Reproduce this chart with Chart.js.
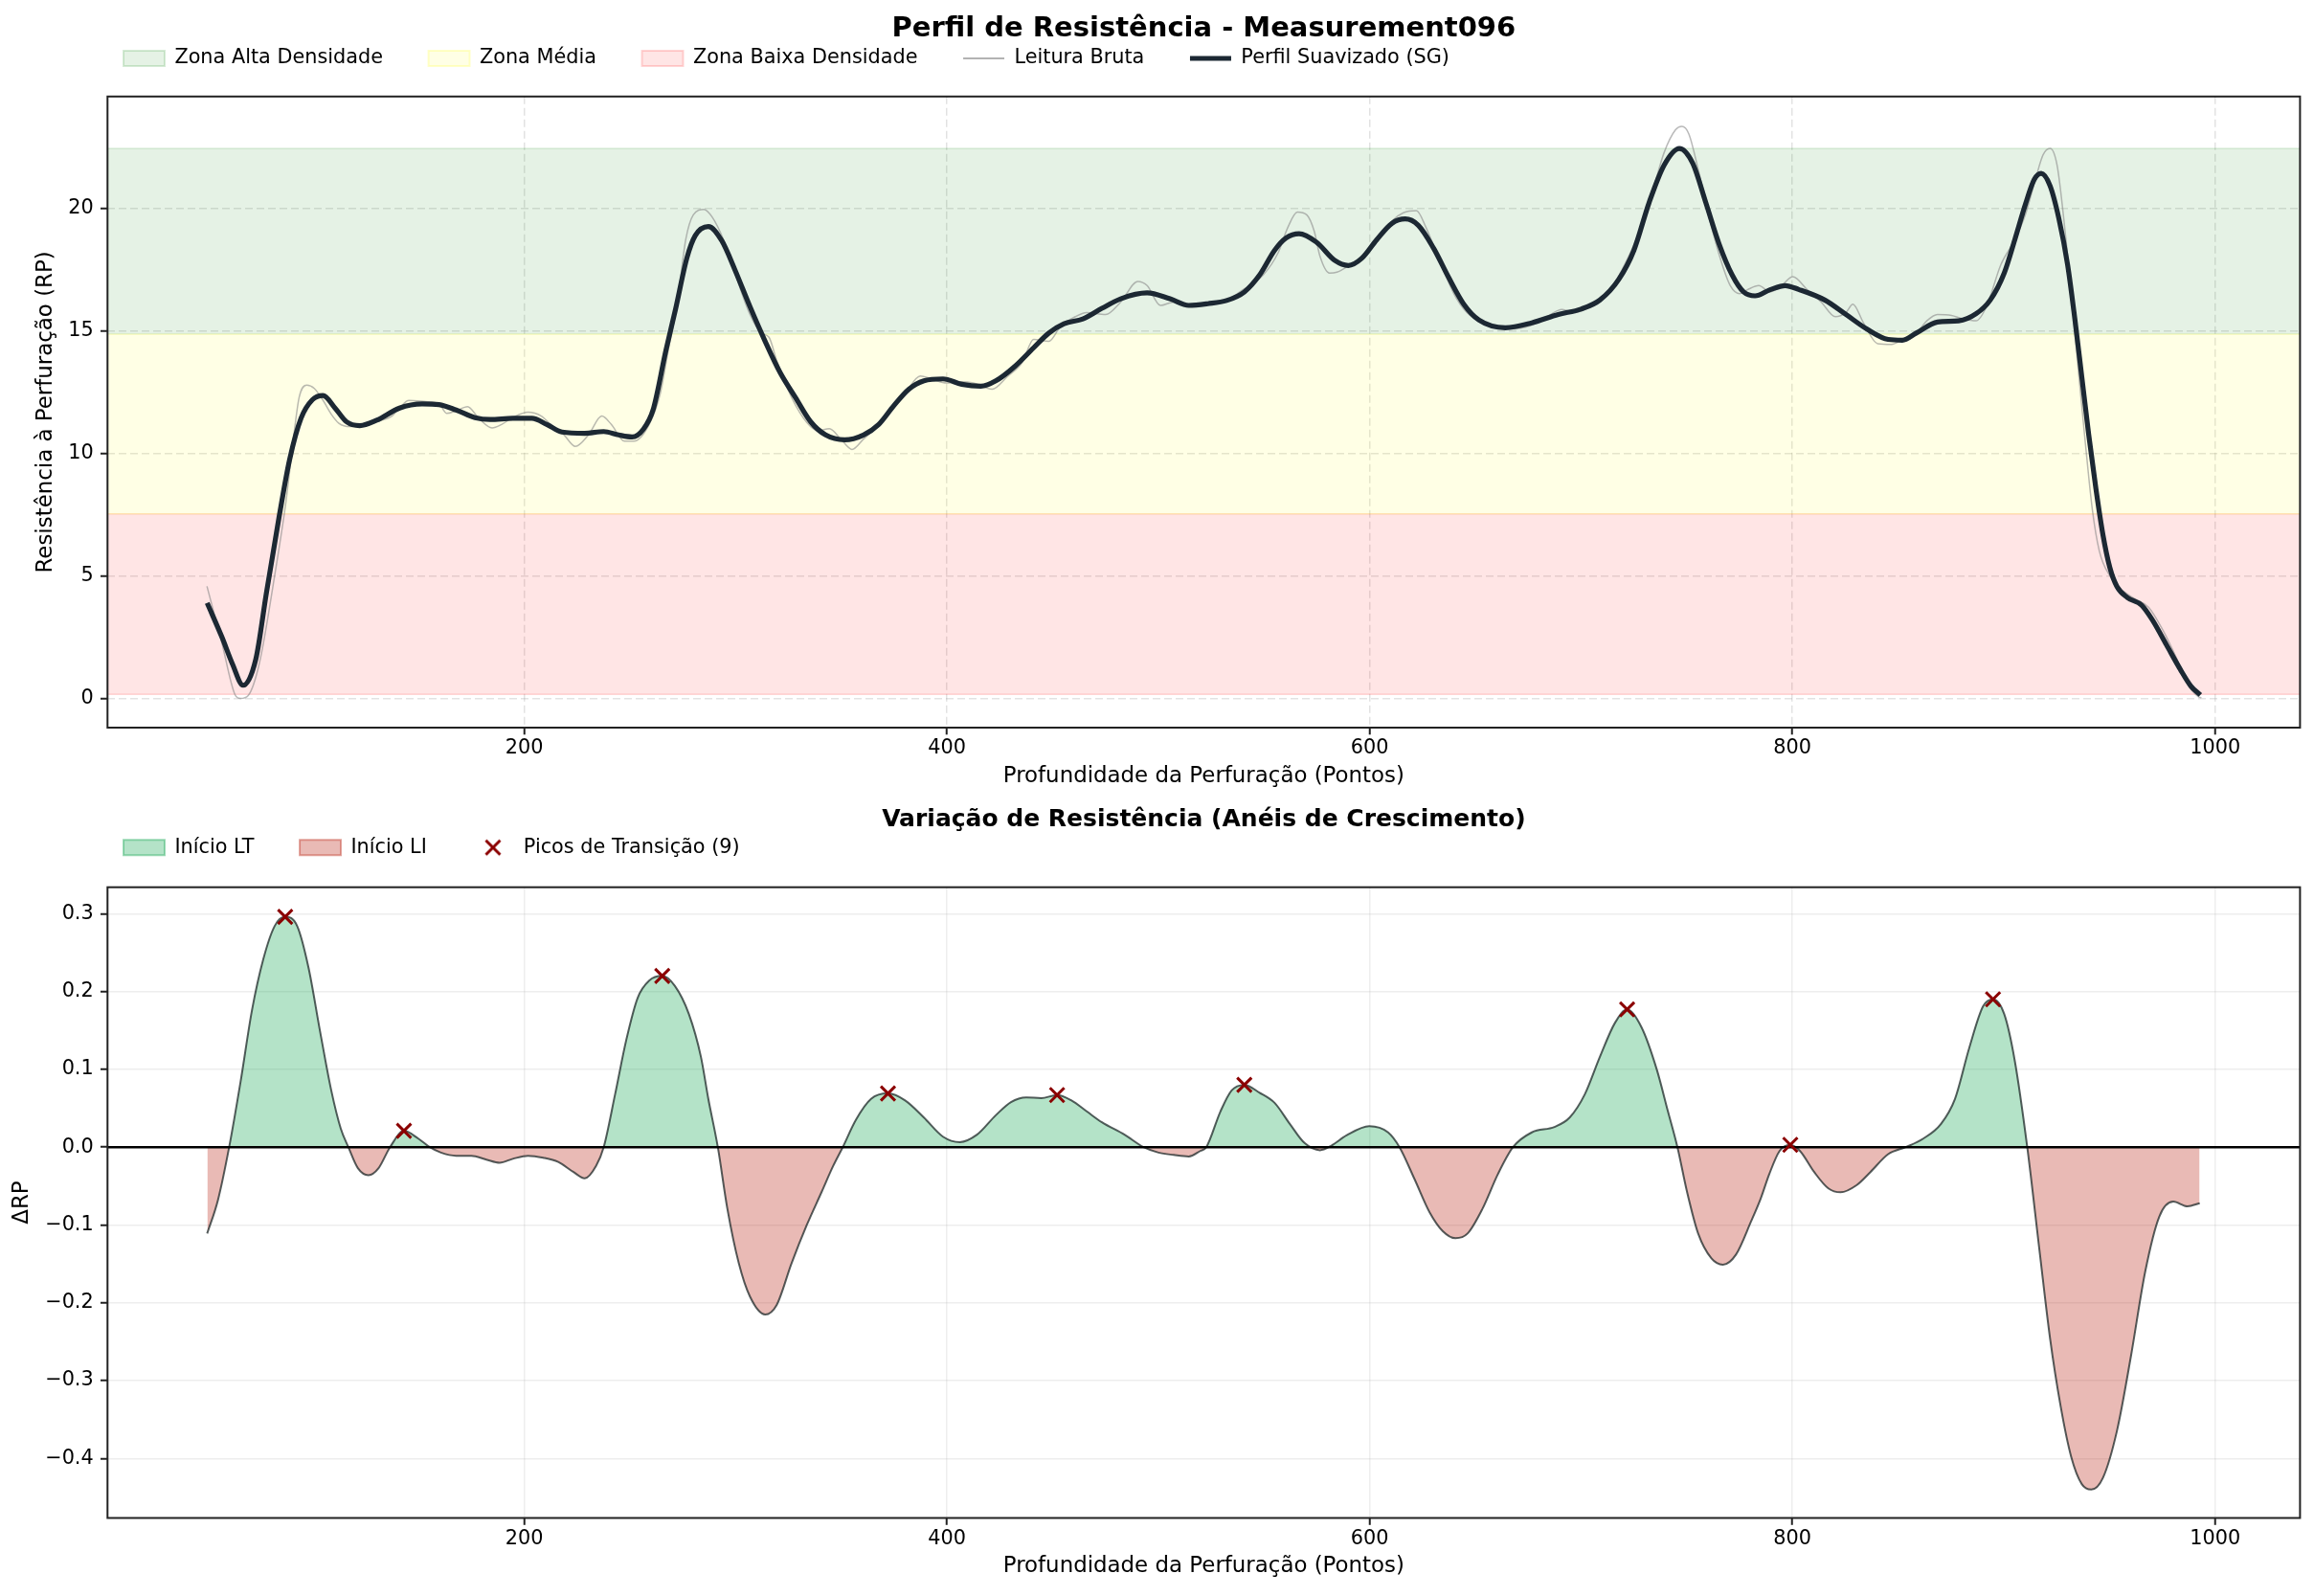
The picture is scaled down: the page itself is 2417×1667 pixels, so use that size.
<!DOCTYPE html>
<html>
<head>
<meta charset="utf-8">
<script src="https://cdn.jsdelivr.net/npm/chart.js@4.4.1/dist/chart.umd.min.js"></script>
<style>
  html, body { margin: 0; padding: 0; background: #fff; overflow: hidden; }
  #fig { position: relative; width: 2417px; height: 1667px; }
  canvas { position: absolute; left: 0; }
  #profile { top: 0; }
  #delta { top: 840px; }
</style>
</head>
<body>
<div id="fig">
  <canvas id="profile" width="2417" height="840"></canvas>
  <canvas id="delta" width="2417" height="827"></canvas>
</div>
<script>
/* ---- data ---- */
const DEPTH_TICKS = [200, 400, 600, 800, 1000];
const RP_TICKS = [0, 5, 10, 15, 20];
const DRP_TICKS = [-0.4, -0.3, -0.2, -0.1, 0, 0.1, 0.2, 0.3];
const X_RANGE = [2.85, 1040.15];
const RP_RANGE = [-1.19, 24.58];
const DRP_RANGE = [-0.4765, 0.334];
const ZONE_EDGES = [0.17, 7.54, 14.88, 22.46];

const SG_X = [50, 57, 62, 67, 73, 78, 84, 89, 94.4, 99.8,
  104.8, 110.5, 115.9, 122.2, 130.2, 141, 151.7, 159.7, 167.8, 176.7,
  183.9, 194.6, 203.6, 210.7, 217.9, 228.6, 237.6, 244.7, 251, 256.4,
  261, 267, 271.6, 277, 280.9, 287.1, 293.4, 299.7, 306.8, 314,
  321.1, 328.3, 335.5, 342.6, 351.6, 360.5, 367.7, 374.8, 382, 389.1,
  398.1, 407, 416, 423.1, 432.1, 441, 448.2, 455.4, 464.3, 473.3,
  482.2, 494.7, 505.5, 514.4, 523.4, 532.3, 540.7, 547.9, 555, 560.4,
  566.6, 574.7, 583.6, 589.9, 596.2, 603.3, 610.5, 616.8, 623, 630.2,
  637.3, 644.5, 651.6, 664.2, 676.7, 689.2, 700, 708.9, 717.9, 725,
  732.2, 739.3, 746.5, 752.8, 759, 765.3, 771.5, 776.9, 782.3, 789.4,
  796.6, 803, 815.3, 825.3, 835.3, 845.3, 852, 858.6, 868.6, 878.6,
  886.9, 893.6, 900.2, 905.2, 910.2, 914.4, 917.7, 921.9, 926.1, 930.2,
  933.6, 936.9, 940.2, 943.6, 946.9, 950.2, 953.5, 958.5, 965.2, 970.2,
  976.9, 983.5, 988.5, 993];
const SG_Y = [3.9, 2.5, 1.4, 0.54, 1.6, 4.3, 7.4, 9.75, 11.44, 12.2,
  12.37, 11.86, 11.3, 11.14, 11.36, 11.86, 12.03, 12.0, 11.78, 11.47,
  11.39, 11.44, 11.44, 11.19, 10.88, 10.83, 10.9, 10.76, 10.68, 11.0,
  11.8, 14.2, 15.9, 18.0, 18.9, 19.27, 18.7, 17.5, 16.0, 14.58,
  13.3, 12.29, 11.3, 10.76, 10.56, 10.76, 11.19, 11.95, 12.63, 12.97,
  13.05, 12.83, 12.75, 12.97, 13.56, 14.32, 14.92, 15.3, 15.5, 15.93,
  16.32, 16.56, 16.32, 16.05, 16.12, 16.25, 16.6, 17.29, 18.3, 18.8,
  18.98, 18.64, 17.88, 17.68, 17.97, 18.73, 19.4, 19.58, 19.32, 18.39,
  17.2, 16.1, 15.46, 15.14, 15.34, 15.68, 15.9, 16.27, 17.12, 18.3,
  20.25, 21.78, 22.46, 21.86, 20.25, 18.56, 17.29, 16.6, 16.44, 16.69,
  16.86, 16.7, 16.27, 15.68, 15.08, 14.66, 14.63, 14.92, 15.37, 15.42,
  15.71, 16.27, 17.37, 18.73, 20.17, 21.19, 21.44, 20.93, 19.58, 17.71,
  15.51, 13.14, 10.76, 8.56, 6.69, 5.34, 4.58, 4.12, 3.81, 3.22,
  2.2, 1.19, 0.51, 0.14];

const RAW_X = [49.9, 56.9, 63.1, 65.8, 69.4, 74.7, 81.9, 87.3, 90.8, 93.5,
  97.1, 100.7, 105.2, 108.7, 112.3, 117.7, 123.1, 130.2, 137.4, 141,
  145.4, 153.5, 159.7, 163.3, 167.8, 173.2, 178.5, 184.8, 189.3, 194.6,
  201.8, 208.1, 212.5, 218.8, 224.2, 230.4, 236.7, 241.2, 247.4, 251.9,
  259.1, 264.4, 268, 272.5, 276.4, 280, 285, 288.9, 294.3, 299.7,
  306.8, 312.2, 315.8, 319.4, 326.5, 333.7, 339, 344.4, 349.8, 355.1,
  360.5, 365.9, 373, 380.2, 387.4, 392.7, 399.9, 407, 412.4, 421.4,
  428.5, 435.7, 441, 448.2, 453.6, 460.7, 466.1, 475.1, 482.2, 490.3,
  494.7, 501, 507.3, 514.4, 523.4, 530.5, 540, 549.6, 556.8, 561.3,
  565.8, 570.2, 573.8, 576.5, 581, 584.5, 590.8, 596.2, 603.3, 610.5,
  615.9, 622.1, 626.6, 633.8, 640.9, 648.1, 655.2, 666, 676.7, 683.9,
  691, 697.3, 705.3, 712.5, 719.6, 726.8, 734, 739.3, 744.7, 747.7,
  751, 755.4, 760.8, 766.2, 770.6, 775.1, 778.7, 784.1, 789.4, 794.8,
  800.2, 807, 813.6, 820.3, 825.3, 828.6, 833.6, 840.3, 846.9, 852,
  858.6, 863.6, 868.6, 875.3, 880.3, 886.9, 891.9, 898.6, 905.2, 910.2,
  915.2, 918.6, 921.9, 925.2, 928.6, 931.9, 935.2, 938.6, 941.9, 945.2,
  950.2, 955.2, 961.9, 968.5, 975.2, 981.9, 986.9, 991.9, 993.5];
const RAW_Y = [4.58, 2.29, 0.17, 0.0, 0.12, 1.44, 5.0, 8.05, 10.6, 12.29,
  12.8, 12.66, 12.12, 11.61, 11.24, 11.1, 11.14, 11.31, 11.53, 11.86,
  12.17, 12.12, 12.03, 11.64, 11.75, 11.92, 11.44, 11.05, 11.19, 11.47,
  11.69, 11.53, 11.19, 10.76, 10.29, 10.76, 11.53, 11.19, 10.51, 10.51,
  11.19, 12.46, 14.15, 16.19, 18.73, 19.75, 19.97, 19.66, 18.73, 17.37,
  15.68, 14.92, 14.75, 13.81, 12.29, 11.27, 10.93, 11.02, 10.59, 10.17,
  10.59, 11.02, 11.78, 12.46, 13.17, 13.05, 12.88, 12.93, 12.88, 12.63,
  13.14, 13.73, 14.66, 14.58, 15.17, 15.59, 15.76, 15.68, 16.19, 17.03,
  16.86, 16.05, 16.19, 16.05, 16.15, 16.19, 16.69, 17.29, 18.22, 19.24,
  19.86, 19.75, 19.07, 18.05, 17.37, 17.41, 17.71, 17.97, 18.64, 19.49,
  19.83, 19.92, 19.24, 17.71, 16.36, 15.59, 15.34, 15.08, 15.25, 15.59,
  15.88, 15.76, 16.05, 16.53, 17.54, 18.9, 20.76, 22.29, 23.22, 23.36,
  23.05, 21.61, 19.58, 17.88, 16.86, 16.53, 16.69, 16.86, 16.6, 16.86,
  17.22, 16.69, 16.19, 15.59, 15.76, 16.1, 15.34, 14.49, 14.46, 14.66,
  14.92, 15.42, 15.68, 15.64, 15.51, 15.42, 16.02, 17.71, 18.73, 19.75,
  21.27, 22.2, 22.46, 21.78, 19.41, 16.53, 13.47, 10.42, 7.71, 6.02,
  5.0, 4.49, 4.07, 3.73, 2.8, 1.61, 0.59, 0.08, 0.03];

const DRP_X = [50, 55.1, 60.4, 65.8, 71.2, 76.5, 81.9, 86.9, 92.6, 98,
  103.4, 108.7, 113.2, 116.8, 121.3, 126.3, 131.1, 136.5, 143.1, 149.9,
  155.3, 160.6, 167.8, 175, 182.1, 188.4, 194.6, 201.8, 209, 216.1,
  223.3, 228.6, 234, 237.6, 243, 248.3, 253.7, 259.1, 265.3, 271.3,
  277.9, 283.6, 287.1, 291.6, 296.1, 301.5, 306.8, 314, 319.4, 326.5,
  333.7, 340.8, 346.2, 350.7, 356.9, 364.1, 372.1, 380.2, 389.1, 398.1,
  406.1, 414.2, 423.1, 430.3, 437.5, 444.6, 452.1, 458.9, 466.1, 473.3,
  484, 493, 500.1, 507.3, 514.4, 519.8, 522.7, 529.4, 534.7, 540.7,
  547.9, 555, 562.2, 569.3, 576.5, 581.9, 589, 599.8, 608.7, 614.1,
  621.2, 628.4, 634.6, 640.6, 646.3, 653.4, 660.6, 667.8, 676.7, 687.4,
  694.6, 701.8, 708.9, 716.1, 721.8, 728.6, 735.8, 741.1, 745.6, 750.1,
  755.4, 761.7, 767.1, 773.3, 780.5, 785, 789, 793.9, 799, 803.6,
  810.3, 817, 822.8, 830.3, 836.9, 845.3, 853.6, 861.9, 870.3, 876.9,
  883.6, 890.2, 894.9, 900.2, 905.2, 911.1, 916.9, 921.9, 926.9, 931.9,
  936.9, 941.4, 946.9, 953.5, 960.2, 966.9, 973.6, 980.2, 986.9, 992.7];
const DRP_Y = [-0.111, -0.068, 0, 0.084, 0.176, 0.241, 0.284, 0.296, 0.284, 0.23,
  0.149, 0.073, 0.024, 0, -0.027, -0.036, -0.027, 0, 0.021, 0.011,
  0, -0.007, -0.011, -0.011, -0.016, -0.020, -0.015, -0.011, -0.0135, -0.019,
  -0.032, -0.040, -0.024, 0, 0.068, 0.138, 0.192, 0.214, 0.220, 0.207,
  0.171, 0.116, 0.062, 0, -0.079, -0.149, -0.192, -0.215, -0.203, -0.149,
  -0.100, -0.057, -0.024, 0, 0.035, 0.062, 0.069, 0.060, 0.038, 0.0135,
  0.0065, 0.016, 0.041, 0.058, 0.064, 0.063, 0.067, 0.060, 0.046, 0.032,
  0.016, 0, -0.007, -0.01, -0.012, -0.005, 0, 0.046, 0.073, 0.080,
  0.070, 0.057, 0.030, 0.005, -0.004, 0.002, 0.015, 0.027, 0.019, 0,
  -0.041, -0.084, -0.108, -0.117, -0.111, -0.079, -0.035, 0, 0.019, 0.026,
  0.038, 0.068, 0.116, 0.160, 0.177, 0.154, 0.100, 0.046, 0, -0.057,
  -0.111, -0.143, -0.151, -0.138, -0.095, -0.066, -0.035, -0.005, 0.003, -0.005,
  -0.032, -0.053, -0.058, -0.049, -0.032, -0.009, 0, 0.011, 0.030, 0.062,
  0.127, 0.181, 0.190, 0.171, 0.111, 0, -0.133, -0.246, -0.333, -0.398,
  -0.433, -0.440, -0.425, -0.365, -0.268, -0.160, -0.089, -0.070, -0.076, -0.072];

const PEAK_X = [86.9, 143.1, 265.3, 372.1, 452.1, 540.7, 721.8, 799, 894.9];
const PEAK_Y = [0.296, 0.021, 0.220, 0.069, 0.067, 0.080, 0.177, 0.003, 0.190];

/* ---- styling ---- */
Chart.defaults.font.family = "'DejaVu Sans', sans-serif";
Chart.defaults.color = '#000';

const GREEN_FILL = 'rgba(39, 174, 96, 0.35)';
const RED_FILL = 'rgba(192, 57, 43, 0.35)';
const TICK_FONT = { size: 20.8 };
const LABEL_FONT = { size: 22.9 };
const KEY_PAD = 47.6;

const pts = (xs, ys) => xs.map((x, i) => ({ x, y: ys[i] }));
const hband = (y) => [{ x: X_RANGE[0], y }, { x: X_RANGE[1], y }];
const fixedTicks = (values) => (scale) => { scale.ticks = values.map((value) => ({ value })); };

// small "x" glyph for the scatter entry of the lower legend
const xMark = document.createElement('canvas');
xMark.width = 20; xMark.height = 20;
(() => {
  const c = xMark.getContext('2d');
  c.strokeStyle = '#8b0000'; c.lineWidth = 3;
  c.beginPath();
  c.moveTo(2.5, 2.5); c.lineTo(17.5, 17.5);
  c.moveTo(17.5, 2.5); c.lineTo(2.5, 17.5);
  c.stroke();
})();

// centre the title over the axes, pin the legend row, draw the 4-sided frame
const figureLayout = {
  id: 'figureLayout',
  afterLayout(chart, args, opts) {
    const area = chart.chartArea;
    if (chart.titleBlock) {
      chart.titleBlock.left = area.left;
      chart.titleBlock.right = area.right;
    }
    const lg = chart.legend;
    if (lg) {
      const h = lg.bottom - lg.top;
      lg.left = opts.legendLeft;
      lg.top = opts.legendTop;
      lg.bottom = opts.legendTop + h;
    }
  },
  afterDraw(chart) {
    const { ctx, chartArea: a } = chart;
    ctx.save();
    ctx.strokeStyle = '#222';
    ctx.lineWidth = 2;
    ctx.strokeRect(a.left, a.top, a.right - a.left, a.bottom - a.top);
    ctx.restore();
  }
};

function xAxis(gridColor, dash) {
  return {
    type: 'linear', bounds: 'data', min: X_RANGE[0], max: X_RANGE[1],
    afterBuildTicks: fixedTicks(DEPTH_TICKS),
    afterFit: (s) => { s.height = 70; },
    grid: { color: gridColor, lineWidth: 1.5, tickLength: 7.3, tickColor: '#222', tickWidth: 2 },
    border: { display: false, dash },
    ticks: { padding: 2, font: TICK_FONT, maxRotation: 0, autoSkip: false, callback: (v) => String(v) },
    title: { display: true, text: 'Profundidade da Perfuração (Pontos)', font: LABEL_FONT, padding: 5.3 }
  };
}

/* ---- upper panel: resistance profile ---- */
new Chart(document.getElementById('profile'), {
  type: 'line',
  data: {
    datasets: [
      { label: 'Perfil Suavizado (SG)', data: pts(SG_X, SG_Y), borderColor: '#1c2833', borderWidth: 5.2,
        cubicInterpolationMode: 'monotone', order: 0,
        keyStyle: 'line', keyStroke: '#1c2833', keyWidth: 5.2 },
      { label: 'Leitura Bruta', data: pts(RAW_X, RAW_Y), borderColor: 'rgba(128, 128, 128, 0.55)', borderWidth: 1.5,
        cubicInterpolationMode: 'monotone', order: 1,
        keyStyle: 'line', keyStroke: 'rgba(128, 128, 128, 0.6)', keyWidth: 2 },
      { label: 'Zona Alta Densidade', data: hband(ZONE_EDGES[3]), fill: { value: ZONE_EDGES[2] },
        backgroundColor: 'rgba(0, 128, 0, 0.1)', borderColor: 'rgba(0, 128, 0, 0.13)', borderWidth: 1.5, order: 2,
        keyStyle: 'rect', keyFill: 'rgba(0, 128, 0, 0.1)', keyStroke: 'rgba(0, 128, 0, 0.16)', keyWidth: 2 },
      { label: 'Zona Média', data: hband(ZONE_EDGES[2]), fill: { value: ZONE_EDGES[1] },
        backgroundColor: 'rgba(255, 255, 0, 0.1)', borderColor: 'rgba(200, 220, 0, 0.2)', borderWidth: 1.5, order: 3,
        keyStyle: 'rect', keyFill: 'rgba(255, 255, 0, 0.1)', keyStroke: 'rgba(255, 255, 0, 0.2)', keyWidth: 2 },
      { label: 'Zona Baixa Densidade', data: hband(ZONE_EDGES[1]), fill: { value: ZONE_EDGES[0] },
        backgroundColor: 'rgba(255, 0, 0, 0.1)', borderColor: 'rgba(255, 140, 0, 0.25)', borderWidth: 1.5, order: 4,
        keyStyle: 'rect', keyFill: 'rgba(255, 0, 0, 0.1)', keyStroke: 'rgba(255, 0, 0, 0.16)', keyWidth: 2 },
      { label: '', data: hband(ZONE_EDGES[0]), borderColor: 'rgba(255, 0, 0, 0.15)', borderWidth: 1.5, order: 5 }
    ]
  },
  options: {
    responsive: false, animation: false, devicePixelRatio: 1, events: [],
    layout: { padding: { top: 0, right: 14.6, bottom: 10, left: 0 } },
    elements: { point: { radius: 0, hoverRadius: 0 }, line: { fill: false } },
    plugins: {
      title: { display: true, text: 'Perfil de Resistência - Measurement096',
        font: { size: 29, weight: 'bold' }, padding: { top: 12.9, bottom: -25.3 } },
      legend: {
        display: true, position: 'top', align: 'start',
        labels: {
          usePointStyle: true, pointStyleWidth: 43, boxHeight: 16, padding: KEY_PAD, font: { size: 20.8 },
          generateLabels: (chart) => [2, 3, 4, 1, 0].map((i) => {
            const ds = chart.data.datasets[i];
            return { text: ds.label, datasetIndex: i, hidden: false, fontColor: '#000',
              fillStyle: ds.keyFill || 'rgba(0,0,0,0)', strokeStyle: ds.keyStroke,
              lineWidth: ds.keyWidth, pointStyle: ds.keyStyle };
          })
        }
      },
      tooltip: { enabled: false },
      figureLayout: { legendLeft: 129 - KEY_PAD, legendTop: 3 }
    },
    scales: {
      x: xAxis('rgba(160, 160, 160, 0.3)', [8, 4]),
      y: {
        type: 'linear', bounds: 'data', min: RP_RANGE[0], max: RP_RANGE[1],
        afterBuildTicks: fixedTicks(RP_TICKS),
        afterFit: (s) => { s.width = 112.3; },
        grid: { color: 'rgba(160, 160, 160, 0.3)', lineWidth: 1.5, tickLength: 7.3, tickColor: '#222', tickWidth: 2 },
        border: { display: false, dash: [8, 4] },
        ticks: { padding: 7.3, font: TICK_FONT, callback: (v) => String(v) },
        title: { display: true, text: 'Resistência à Perfuração (RP)', font: LABEL_FONT, padding: 34.3 }
      }
    }
  },
  plugins: [figureLayout]
});

/* ---- lower panel: resistance variation ---- */
new Chart(document.getElementById('delta'), {
  type: 'line',
  data: {
    datasets: [
      { label: 'ΔRP', data: pts(DRP_X, DRP_Y), borderColor: 'rgba(30, 40, 40, 0.75)', borderWidth: 2,
        fill: { target: { value: 0 }, above: GREEN_FILL, below: RED_FILL },
        cubicInterpolationMode: 'monotone', order: 2 },
      { label: 'zero', data: hband(0), borderColor: '#000', borderWidth: 2.6, order: 1 },
      { label: `Picos de Transição (${PEAK_X.length})`, data: pts(PEAK_X, PEAK_Y), showLine: false,
        pointStyle: 'crossRot', pointRadius: 10.6, pointHoverRadius: 10.6, pointBorderWidth: 3,
        pointBorderColor: '#8b0000', pointBackgroundColor: '#8b0000', order: 0 }
    ]
  },
  options: {
    responsive: false, animation: false, devicePixelRatio: 1, events: [],
    layout: { padding: { top: 0, right: 14.6, bottom: 11.5, left: 0 } },
    elements: { point: { radius: 0, hoverRadius: 0 }, line: { fill: false } },
    plugins: {
      title: { display: true, text: 'Variação de Resistência (Anéis de Crescimento)',
        font: { size: 25, weight: 'bold' }, padding: { top: 1.5, bottom: -23.2 } },
      legend: {
        display: true, position: 'top', align: 'start',
        labels: {
          usePointStyle: true, pointStyleWidth: 43, boxHeight: 16, padding: KEY_PAD, font: { size: 20.8 },
          generateLabels: (chart) => [
            { text: 'Início LT', datasetIndex: 0, hidden: false, fontColor: '#000', pointStyle: 'rect',
              fillStyle: GREEN_FILL, strokeStyle: 'rgba(39, 174, 96, 0.45)', lineWidth: 2 },
            { text: 'Início LI', datasetIndex: 0, hidden: false, fontColor: '#000', pointStyle: 'rect',
              fillStyle: RED_FILL, strokeStyle: 'rgba(192, 57, 43, 0.45)', lineWidth: 2 },
            { text: chart.data.datasets[2].label, datasetIndex: 2, hidden: false, fontColor: '#000',
              pointStyle: xMark, fillStyle: '#8b0000', strokeStyle: '#8b0000', lineWidth: 0 }
          ]
        }
      },
      tooltip: { enabled: false },
      figureLayout: { legendLeft: 129 - KEY_PAD, legendTop: -12.8 }
    },
    scales: {
      x: xAxis('rgba(160, 160, 160, 0.18)', []),
      y: {
        type: 'linear', bounds: 'data', min: DRP_RANGE[0], max: DRP_RANGE[1],
        afterBuildTicks: fixedTicks(DRP_TICKS),
        afterFit: (s) => { s.width = 112.3; },
        grid: { color: 'rgba(160, 160, 160, 0.18)', lineWidth: 1.5, tickLength: 7.3, tickColor: '#222', tickWidth: 2 },
        border: { display: false },
        ticks: { padding: 7.3, font: TICK_FONT,
          callback: (v) => (v < -1e-9 ? '\u2212' : '') + Math.abs(v).toFixed(1) },
        title: { display: true, text: 'ΔRP', font: LABEL_FONT, padding: 9.3 }
      }
    }
  },
  plugins: [figureLayout]
});
</script>
</body>
</html>
